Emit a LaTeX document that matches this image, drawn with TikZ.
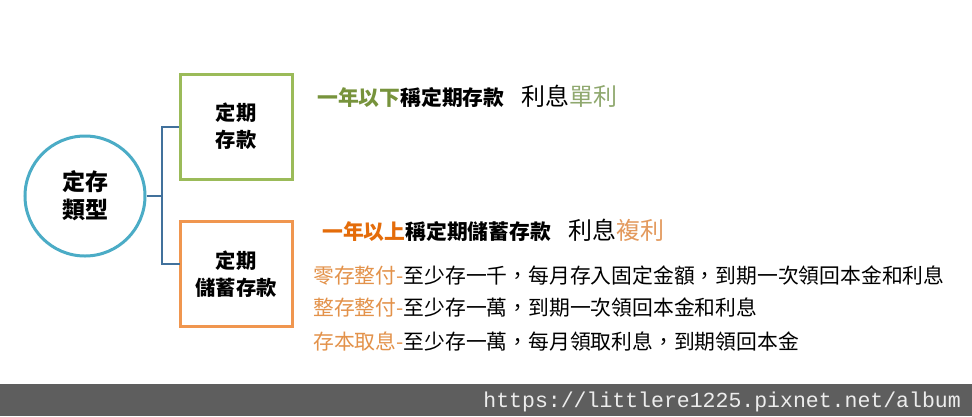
\documentclass[tikz,border=0pt]{standalone}
\usepackage{fontspec}
\setmainfont{Noto Sans CJK TC}
\newfontfamily\urlfont{Liberation Mono}
\definecolor{circ}{HTML}{4BACC6}
\definecolor{gbox}{HTML}{9BBB59}
\definecolor{obox}{HTML}{F0964F}
\definecolor{conn}{HTML}{41719C}
\definecolor{gdark}{HTML}{77933C}
\definecolor{glight}{HTML}{8FA86E}
\definecolor{odark}{HTML}{E46C0A}
\definecolor{olight}{HTML}{E39A5E}
\definecolor{oitem}{HTML}{E3924A}
\definecolor{bar}{HTML}{5E5E5E}
\definecolor{urlc}{HTML}{EDEDED}
\begin{document}
\begin{tikzpicture}[x=1pt,y=-1pt,
  boxst/.style={draw,line width=3pt,fill=white,minimum width=112pt,minimum height=105pt,inner sep=0pt,align=center,
     font=\fontsize{20.3}{27}\selectfont\bfseries},
  circst/.style={circle,draw=circ,line width=3pt,minimum size=120pt,inner sep=0pt,align=center,
     font=\fontsize{23}{28}\selectfont\bfseries},
  conn/.style={draw=conn,line width=2pt},
  txt/.style={anchor=base west,inner sep=0pt}]
\useasboundingbox (0,0) rectangle (972,416);
\fill[white] (0,0) rectangle (972,416);
% bottom bar
\fill[bar] (0,384) rectangle (972,416);
\node[anchor=base east,inner sep=0pt,text=urlc,font=\urlfont\fontsize{21.5}{22}\selectfont] (url) at (961,407) {https://littlere1225.pixnet.net/album};
% nodes
\node[circst] (c) at (85,196) {定存\\類型};
\node[boxst,draw=gbox] (g) at (236,126.5) {定期\\存款};
\node[boxst,draw=obox] (o) at (236,274) {定期\\儲蓄存款};
\coordinate (j) at (162,196);
\coordinate (ob) at (180,264);
\draw[conn] (c.east) -- (j);
\draw[conn] (g.west) -| (j) |- (ob);
% texts
\node[txt] (t1) at (317,105) {\fontsize{20.8}{24}\selectfont\bfseries{\color{gdark}一年以下}稱定期存款\hspace{17pt}\mdseries\fontsize{24}{26}\selectfont 利息{\color{glight}單利}};
\node[txt] (t2) at (322,239) {\fontsize{20.8}{24}\selectfont\bfseries{\color{odark}一年以上}稱定期儲蓄存款\hspace{17pt}\mdseries\fontsize{24}{26}\selectfont 利息{\color{olight}複利}};
\node[txt,font=\fontsize{20.8}{24}\selectfont] (t3) at (313,283) {{\color{oitem}零存整付-}至少存一千，每月存入固定金額，到期一次領回本金和利息};
\node[txt,font=\fontsize{20.8}{24}\selectfont] (t4) at (313,315) {{\color{oitem}整存整付-}至少存一萬，到期一次領回本金和利息};
\node[txt,font=\fontsize{20.8}{24}\selectfont] (t5) at (313,349) {{\color{oitem}存本取息-}至少存一萬，每月領取利息，到期領回本金};
\end{tikzpicture}
\end{document}
